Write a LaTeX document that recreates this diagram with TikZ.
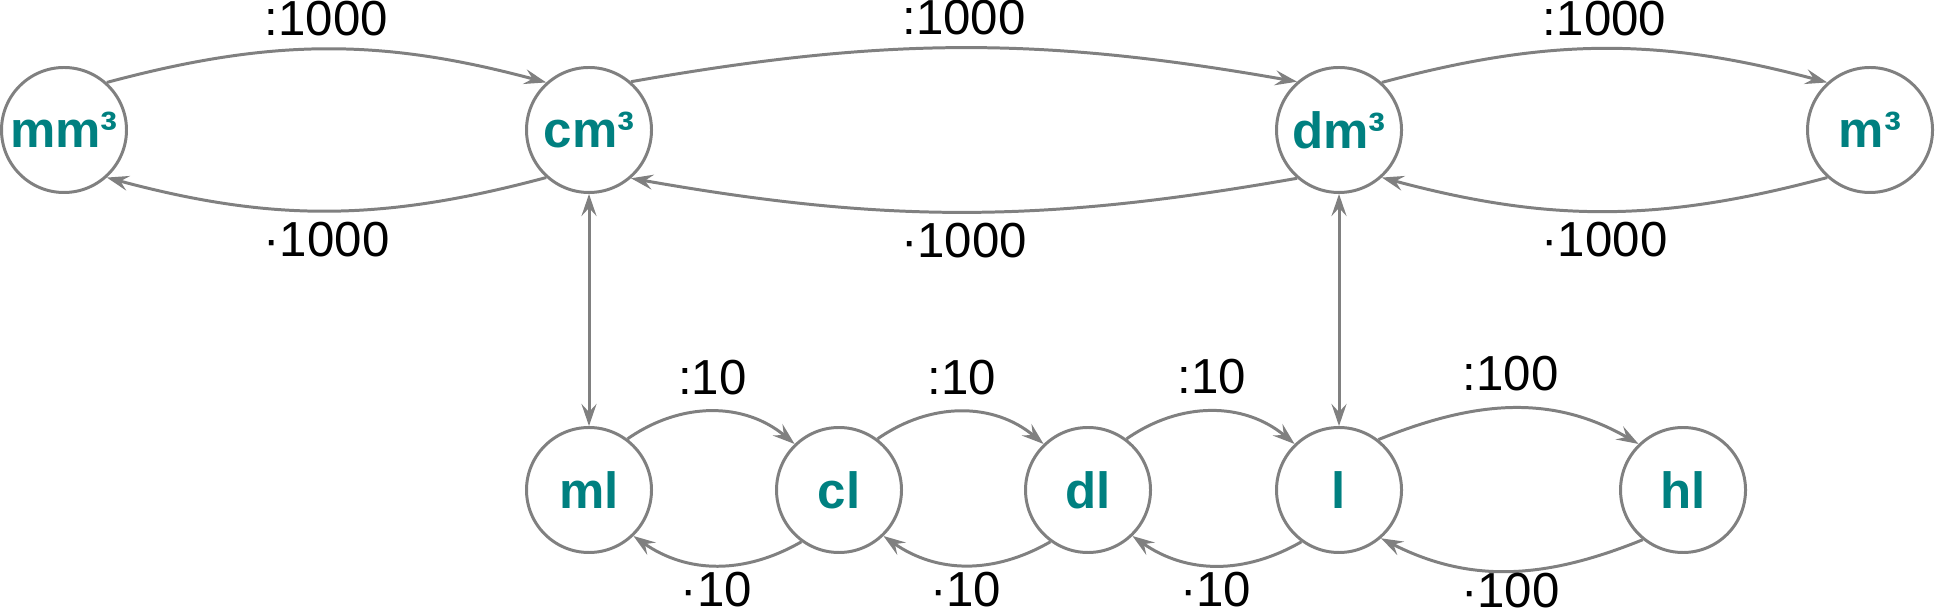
\documentclass[tikz,border=0pt]{standalone}
\usepackage{fontspec}
\setmainfont{Liberation Sans}
\usetikzlibrary{arrows.meta}
\definecolor{unitteal}{RGB}{0,128,128}
\definecolor{linegray}{RGB}{128,128,128}

\begin{document}
\begin{tikzpicture}[line width=0.85pt,
    unit/.style={circle,draw=linegray,minimum size=1.25cm,inner sep=0pt,text=unitteal,
                 font=\fontsize{14.5}{16}\selectfont\bfseries},
    conv/.style={draw=linegray,-{Stealth[length=0.22cm,width=0.15cm,inset=0.08cm]}},
    both/.style={draw=linegray,{Stealth[length=0.22cm,width=0.15cm,inset=0.08cm]}-{Stealth[length=0.22cm,width=0.15cm,inset=0.08cm]}},
    fac/.style={font=\fontsize{14}{16}\selectfont,inner sep=1pt}]

          \useasboundingbox (0,0) rectangle (19.35,6.15);

          % cubic units
          \node[unit] (mm3) at (0.64,4.85) {mm³};
          \node[unit] (cm3) at (5.89,4.85) {cm³};
          \node[unit] (dm3) at (13.39,4.85) {dm³};
          \node[unit] (m3) at (18.70,4.85) {m³};
          % litres
          \node[unit] (ml) at (5.89,1.25) {ml};
          \node[unit] (cl) at (8.39,1.25) {cl};
          \node[unit] (dl) at (10.88,1.25) {dl};
          \node[unit] (l) at (13.39,1.25) {l};
          \node[unit] (hl) at (16.83,1.25) {hl};

          \draw[conv] (mm3.48) to[out=15,in=165] node[fac,above=0.08cm] {:1000} (cm3.132);
          \draw[conv] (cm3.-132) to[out=-165,in=-15] node[fac,below=0.06cm] {·1000} (mm3.-48);
          \draw[conv] (cm3.49) to[out=10,in=170] node[fac,above=0.08cm] {:1000} (dm3.131);
          \draw[conv] (dm3.-131) to[out=-170,in=-10] node[fac,below=0.06cm] {·1000} (cm3.-49);
          \draw[conv] (dm3.48) to[out=15,in=165] node[fac,above=0.08cm] {:1000} (m3.132);
          \draw[conv] (m3.-132) to[out=-165,in=-15] node[fac,below=0.06cm] {·1000} (dm3.-48);

          \draw[both] (cm3) -- (ml);
          \draw[both] (dm3) -- (l);

          \draw[conv] (ml.53) to[out=35,in=140] node[fac,above=0.12cm] {:10} (cl.134);
          \draw[conv] (cl.-126) to[out=-150,in=-35] node[fac,below=0.02cm] {·10} (ml.-46);
          \draw[conv] (cl.53) to[out=35,in=140] node[fac,above=0.12cm] {:10} (dl.134);
          \draw[conv] (dl.-126) to[out=-150,in=-35] node[fac,below=0.02cm] {·10} (cl.-46);
          \draw[conv] (dl.53) to[out=35,in=140] node[fac,above=0.12cm] {:10} (l.134);
          \draw[conv] (l.-126) to[out=-150,in=-35] node[fac,below=0.02cm] {·10} (dl.-46);
          \draw[conv] (l.52) to[out=22,in=150] node[fac,above=0.12cm] {:100} (hl.134);
          \draw[conv] (hl.-129) to[out=-158,in=-27] node[fac,below=-0.03cm] {·100} (l.-49);
        \end{tikzpicture}
\end{document}
